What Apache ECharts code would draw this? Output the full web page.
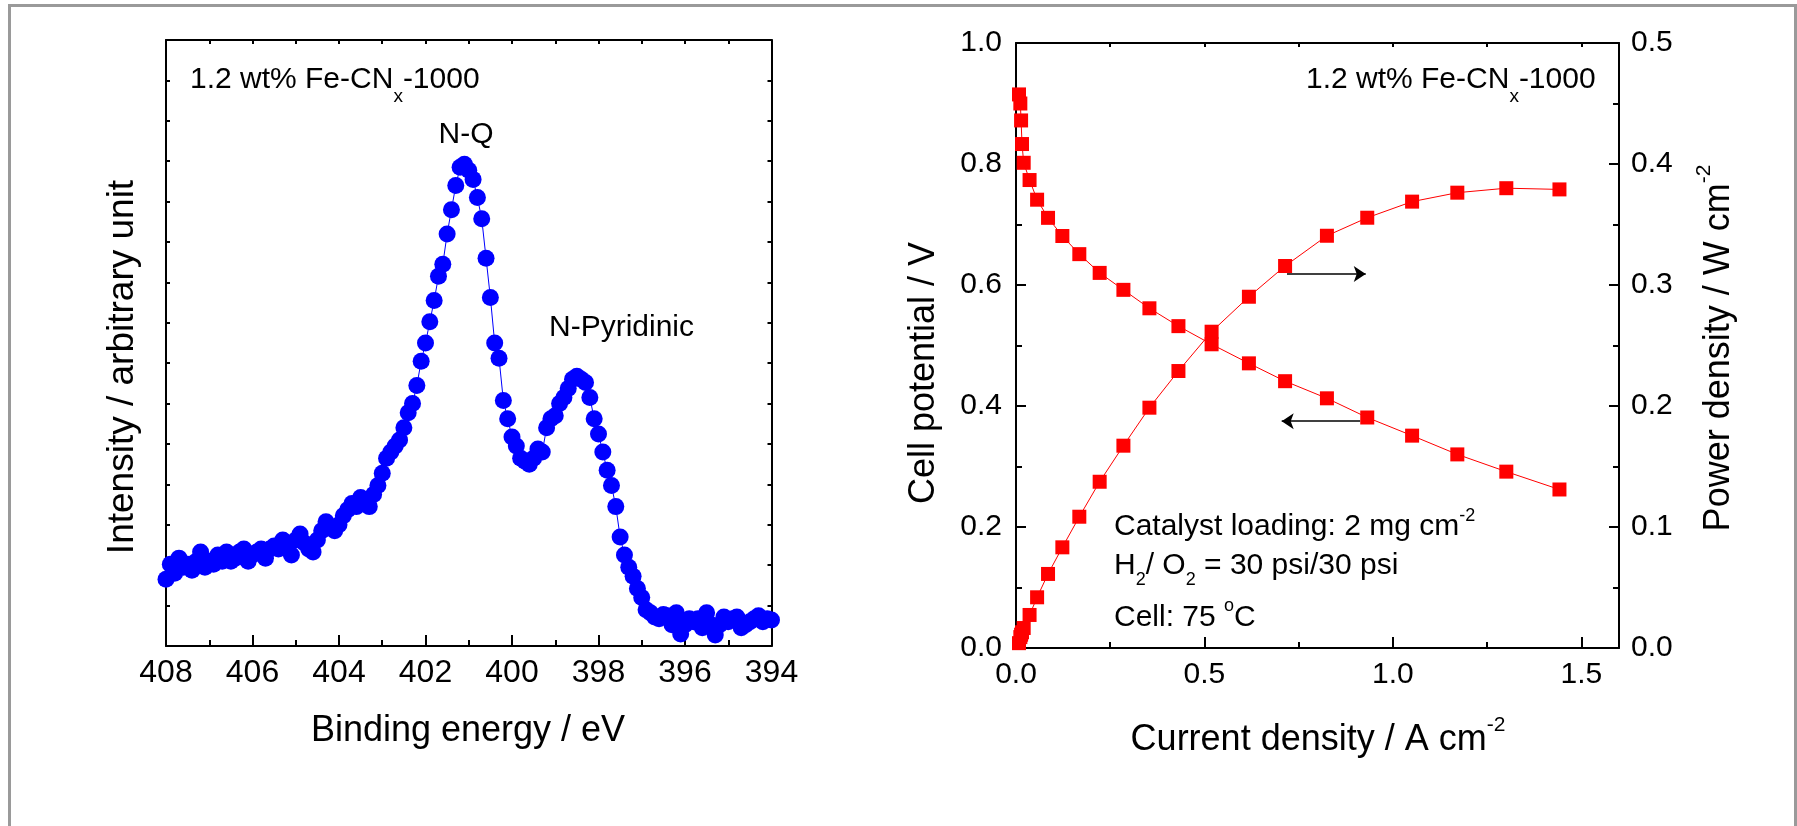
<!DOCTYPE html>
<html><head><meta charset="utf-8">
<script src="https://cdn.jsdelivr.net/npm/echarts@6/dist/echarts.min.js"></script>
<style>html,body{margin:0;padding:0;background:#fff}#c{width:1797px;height:826px}</style>
</head><body><div id="c"></div>
<script>
// ---------- Data: XPS N1s spectrum (left panel) ----------
const xpsEnergy = [
408.0,407.9,407.8,407.7,407.6,407.5,407.4,407.3,407.2,407.1,
407.0,406.9,406.8,406.7,406.6,406.5,406.4,406.3,406.2,406.1,
406.0,405.9,405.8,405.7,405.6,405.5,405.4,405.3,405.2,405.1,
405.0,404.9,404.8,404.7,404.6,404.5,404.4,404.3,404.2,404.1,
404.0,403.9,403.8,403.7,403.6,403.5,403.4,403.3,403.2,403.1,
403.0,402.9,402.8,402.7,402.6,402.5,402.4,402.3,402.2,402.1,
402.0,401.9,401.8,401.7,401.6,401.5,401.4,401.3,401.2,401.1,
401.0,400.9,400.8,400.7,400.6,400.5,400.4,400.3,400.2,400.1,
400.0,399.9,399.8,399.7,399.6,399.5,399.4,399.3,399.2,399.1,
399.0,398.9,398.8,398.7,398.6,398.5,398.4,398.3,398.2,398.1,
398.0,397.9,397.8,397.7,397.6,397.5,397.4,397.3,397.2,397.1,
397.0,396.9,396.8,396.7,396.6,396.5,396.4,396.3,396.2,396.1,
396.0,395.9,395.8,395.7,395.6,395.5,395.4,395.3,395.2,395.1,
395.0,394.9,394.8,394.7,394.6,394.5,394.4,394.3,394.2,394.1,
394.0];
const xpsIntensity = [
11.0,13.5,12.0,14.5,13.0,13.5,12.5,14.0,15.5,13.0,
14.0,13.5,15.0,14.0,15.5,14.0,14.5,15.5,16.0,14.0,
15.0,15.5,16.0,14.5,16.0,16.5,16.0,17.5,16.0,15.0,
17.5,18.5,17.0,16.0,15.5,17.5,19.0,20.5,19.5,19.0,
20.0,21.5,22.5,23.5,23.0,24.5,24.0,23.0,25.0,26.5,
28.5,31.0,32.0,33.0,34.0,36.0,38.5,40.0,43.0,47.0,
50.0,53.5,57.0,61.0,63.0,68.0,72.0,76.0,79.0,79.5,
78.5,77.0,74.0,70.5,64.0,57.5,50.0,47.5,40.5,37.5,
34.5,33.0,31.0,30.5,30.0,31.0,32.5,32.0,36.0,37.5,
38.0,40.0,41.0,42.5,44.0,44.5,44.0,43.5,41.0,37.5,
35.0,32.0,29.0,26.5,23.0,18.0,15.0,13.0,11.5,9.5,
8.0,6.0,5.5,4.8,4.5,5.2,5.0,3.5,5.5,2.0,
3.5,4.5,4.0,4.5,3.0,5.5,3.5,1.8,3.5,4.8,
4.0,4.5,4.8,3.0,3.5,4.0,4.5,5.0,4.0,4.5,
4.3];

// ---------- Data: fuel cell polarization (right panel) ----------
const currentDensity = [0.008,0.0115,0.0135,0.016,0.0204,0.036,0.056,0.085,0.123,0.168,0.222,0.285,0.354,0.431,0.519,0.618,0.714,0.825,0.932,1.051,1.171,1.301,1.442];
const cellPotential  = [0.915,0.900,0.872,0.833,0.802,0.7735,0.741,0.711,0.681,0.651,0.620,0.592,0.5615,0.532,0.502,0.4705,0.441,0.4127,0.381,0.351,0.320,0.2915,0.262];
const powerDensity   = [0.004,0.009,0.011,0.013,0.0165,0.0273,0.0419,0.0612,0.0832,0.1085,0.1374,0.1672,0.1986,0.2289,0.2614,0.2903,0.3157,0.3407,0.3556,0.3689,0.3763,0.380,0.379];

// arrow annotations in data coordinates
const powerArrow   = [[0.719, 0.309], [0.928, 0.309]];   // right axis (W cm-2)
const voltageArrow = [[0.913, 0.375], [0.705, 0.375]];   // left axis (V)

const FONT = "'Liberation Sans', Arial, sans-serif";
const BLK = '#000';

const xpsData = xpsEnergy.map((e, i) => [e, xpsIntensity[i]]);
const vData = currentDensity.map((j, i) => [j, cellPotential[i]]);
const pData = currentDensity.map((j, i) => [j, powerDensity[i]]);

function axisBase(extra) {
  return Object.assign({
    type: 'value',
    splitLine: { show: false },
    axisLine: { show: true, onZero: false, lineStyle: { color: BLK, width: 2 } },
    axisTick: { show: true, inside: true, length: 4, lineStyle: { color: BLK, width: 2 } },
    axisLabel: { show: false },
  }, extra);
}
const lbl = (size, margin, fmt) => ({ show: true, color: BLK, fontSize: size, fontFamily: FONT, margin: margin, formatter: fmt });
const fix1 = v => v.toFixed(1);
const minor = (len) => ({ show: true, splitNumber: 2, length: len, lineStyle: { color: BLK, width: 2 } });

const chart = echarts.init(document.getElementById('c'), null, { renderer: 'canvas' });

function txt(x, y, text, rich, opts) {
  return Object.assign({
    type: 'text', x: x, y: y, z: 100,
    style: Object.assign({
      text: text, rich: rich,
      fontFamily: FONT, fontSize: 30, fill: BLK,
      align: 'left', verticalAlign: 'middle',
      textAlign: 'left', textVerticalAlign: 'middle'
    }, opts || {})
  });
}
const R = (size, lh, va) => ({ fontSize: size, lineHeight: lh, fontFamily: FONT, fill: BLK, verticalAlign: va || 'middle' });

const arrowLine = (pts) => ({
  silent: true, symbol: ['none', 'arrow'], symbolSize: 12,
  label: { show: false }, lineStyle: { color: BLK, width: 1.5, type: 'solid' },
  emphasis: { disabled: true },
  data: [[{ coord: pts[0] }, { coord: pts[1] }]]
});

const option = {
  animation: false,
  backgroundColor: '#fff',
  grid: [
    { left: 166, top: 40, right: 1797 - 771.5, bottom: 826 - 646, containLabel: false },
    { left: 1016, top: 43, right: 1797 - 1619, bottom: 826 - 648, containLabel: false }
  ],
  xAxis: [
    axisBase({ gridIndex: 0, position: 'bottom', min: 394, max: 408, inverse: true, interval: 2,
      axisTick: { show: true, inside: true, length: 11, lineStyle: { color: BLK, width: 2 } },
      minorTick: minor(6),
      axisLabel: lbl(32, 11, v => String(v)) }),
    axisBase({ gridIndex: 0, position: 'top', min: 394, max: 408, inverse: true, interval: 1 }),
    axisBase({ gridIndex: 1, position: 'bottom', min: 0, max: 1.6, interval: 0.5,
      axisTick: { show: true, inside: true, length: 11, lineStyle: { color: BLK, width: 2 } },
      axisLabel: Object.assign(lbl(30, 12, fix1), { showMaxLabel: false }) }),
    axisBase({ gridIndex: 1, position: 'top', min: 0, max: 1.6, interval: 0.25 }),
    axisBase({ gridIndex: 1, position: 'bottom', min: 0, max: 1.6, interval: 0.25,
      axisLine: { show: false },
      axisTick: { show: true, inside: true, length: 6, lineStyle: { color: BLK, width: 2 } } })
  ],
  yAxis: [
    axisBase({ gridIndex: 0, position: 'left', min: 0, max: 100, interval: 100 / 15 }),
    axisBase({ gridIndex: 0, position: 'right', min: 0, max: 100, interval: 100 / 15 }),
    axisBase({ gridIndex: 1, position: 'left', min: 0, max: 1, interval: 0.2,
      axisTick: { show: true, inside: true, length: 10, lineStyle: { color: BLK, width: 2 } },
      minorTick: minor(6),
      axisLabel: lbl(30, 14, fix1) }),
    axisBase({ gridIndex: 1, position: 'right', min: 0, max: 0.5, interval: 0.1,
      axisTick: { show: true, inside: true, length: 10, lineStyle: { color: BLK, width: 2 } },
      minorTick: minor(6),
      axisLabel: lbl(30, 12, fix1) })
  ],
  series: [
    {
      type: 'line', xAxisIndex: 0, yAxisIndex: 0, data: xpsData,
      symbol: 'circle', symbolSize: 17, showSymbol: true, showAllSymbol: true,
      itemStyle: { color: '#0000ff' }, lineStyle: { color: '#0000ff', width: 1 },
      clip: true, silent: true
    },
    {
      type: 'line', xAxisIndex: 2, yAxisIndex: 2, data: vData,
      symbol: 'rect', symbolSize: 14, showSymbol: true,
      itemStyle: { color: '#ff0000' }, lineStyle: { color: '#ff0000', width: 1 },
      silent: true,
      markLine: arrowLine(voltageArrow)
    },
    {
      type: 'line', xAxisIndex: 2, yAxisIndex: 3, data: pData,
      symbol: 'rect', symbolSize: 14, showSymbol: true,
      itemStyle: { color: '#ff0000' }, lineStyle: { color: '#ff0000', width: 1 },
      silent: true,
      markLine: arrowLine(powerArrow)
    }
  ],
  graphic: [
    // outer grey frame
    { type: 'rect', shape: { x: 8, y: 4, width: 1789, height: 3 }, style: { fill: '#9a9a9a' }, z: 1 },
    { type: 'rect', shape: { x: 8, y: 4, width: 3, height: 822 }, style: { fill: '#9a9a9a' }, z: 1 },
    { type: 'rect', shape: { x: 1794, y: 4, width: 3, height: 822 }, style: { fill: '#9a9a9a' }, z: 1 },

    // left panel texts
    txt(190, 80, '{m|1.2 wt% Fe-CN}{s|x}{m|-1000}', { m: R(30, 52), s: R(19, 19, 'bottom') }),
    txt(466, 135, 'N-Q', null, { align: 'center', textAlign: 'center' }),
    txt(549, 328, 'N-Pyridinic'),
    txt(468, 731, 'Binding energy / eV', null, { fontSize: 36, align: 'center', textAlign: 'center' }),
    Object.assign(txt(123, 367, 'Intensity / arbitrary unit', null, { fontSize: 37, align: 'center', textAlign: 'center' }), { rotation: Math.PI / 2 }),

    // right panel texts
    txt(1306, 80, '{m|1.2 wt% Fe-CN}{s|x}{m|-1000}', { m: R(30, 52), s: R(19, 19, 'bottom') }),
    txt(1114, 527, '{m|Catalyst loading: 2 mg cm}{p|-2}', { m: R(30, 40), p: R(18, 18, 'top') }),
    txt(1114, 566, '{m|H}{s|2}{m|/ O}{s|2}{m| = 30 psi/30 psi}', { m: R(30, 46), s: R(18, 18, 'bottom') }),
    txt(1114, 618, '{m|Cell: 75 }{p|o}{m|C}', { m: R(30, 42), p: R(18, 18, 'top') }),
    txt(1318, 740, '{m|Current density / A cm}{p|-2}', { m: R(36, 50), p: R(21, 20, 'top') }, { align: 'center', textAlign: 'center' }),
    Object.assign(txt(924, 373, 'Cell potential / V', null, { fontSize: 36, align: 'center', textAlign: 'center' }), { rotation: Math.PI / 2 }),
    Object.assign(txt(1719, 348, '{m|Power density / W cm}{p|-2}', { m: R(36, 50), p: R(21, 20, 'top') }, { align: 'center', textAlign: 'center' }), { rotation: Math.PI / 2 })
  ]
};
chart.setOption(option);
</script>
</body></html>
